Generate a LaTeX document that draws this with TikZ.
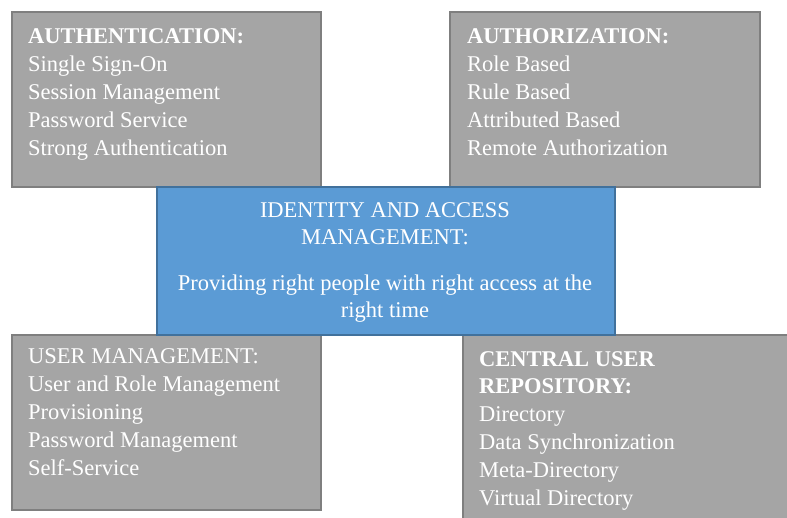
\documentclass[tikz,border=0pt]{standalone}
\usepackage{fontspec}
\setmainfont{Liberation Serif}
\definecolor{panelgray}{HTML}{A5A5A5}
\definecolor{paneledge}{HTML}{7F7F7F}
\definecolor{iamblue}{HTML}{5B9BD5}
\definecolor{iamedge}{HTML}{41719C}
\tikzset{
  panel/.style={draw=paneledge,fill=panelgray,line width=1.5pt,anchor=north west,inner sep=0pt},
  core/.style={draw=iamedge,fill=iamblue,line width=1.5pt,anchor=north west,inner sep=0pt},
  item/.style={text=white,font=\fontsize{22.5}{28}\selectfont,anchor=base west,inner sep=0pt},
  head/.style={item,font=\fontsize{22.5}{28}\selectfont\bfseries},
  centre/.style={item,anchor=base}
}
\begin{document}
\begin{tikzpicture}[x=1pt,y=-1pt]
  \useasboundingbox (0,0) rectangle (787,517);
  \clip (0,0) rectangle (787,517);
  % four grey panels round the middle
  \node[panel,minimum width=309pt,minimum height=175pt] (authn) at (11,11) {};
  \node[panel,minimum width=310pt,minimum height=175pt] (authz) at (449,11) {};
  \node[panel,minimum width=309pt,minimum height=175pt] (usermgmt) at (11,334) {};
  \node[panel,minimum width=340pt,minimum height=200pt] (repo) at (462,334) {};
  % blue box in the middle
  \node[core,minimum width=458pt,minimum height=148pt] (iam) at (156,186) {};

  % authentication
  \node[head] (authn-title) at (28,43.5) {AUTHENTICATION:};
  \foreach \line [count=\i from 0] in {Single Sign-On,Session Management,Password Service,Strong Authentication}
    \node[item] (authn-\i) at (28,{71.5+28*\i}) {\line};

  % authorization
  \node[head] (authz-title) at (467,43.5) {AUTHORIZATION:};
  \foreach \line [count=\i from 0] in {Role Based,Rule Based,Attributed Based,Remote Authorization}
    \node[item] (authz-\i) at (467,{71.5+28*\i}) {\line};

  % middle text
  \node[centre] (iam-t1) at (385,217) {IDENTITY AND ACCESS};
  \node[centre] (iam-t2) at (385,244) {MANAGEMENT:};
  \node[centre] (iam-t3) at (385,290) {Providing right people with right access at the};
  \node[centre] (iam-t4) at (385,317) {right time};

  % user management
  \node[item] (usermgmt-title) at (28,363) {USER MANAGEMENT:};
  \foreach \line [count=\i from 0] in {User and Role Management,Provisioning,Password Management,Self-Service}
    \node[item] (usermgmt-\i) at (28,{391+28*\i}) {\line};

  % central user repository
  \node[head] (repo-title1) at (479,366) {CENTRAL USER};
  \node[head] (repo-title2) at (479,393.5) {REPOSITORY:};
  \foreach \line [count=\i from 0] in {Directory,Data Synchronization,Meta-Directory,Virtual Directory}
    \node[item] (repo-\i) at (479,{421.5+28*\i}) {\line};
\end{tikzpicture}
\end{document}
